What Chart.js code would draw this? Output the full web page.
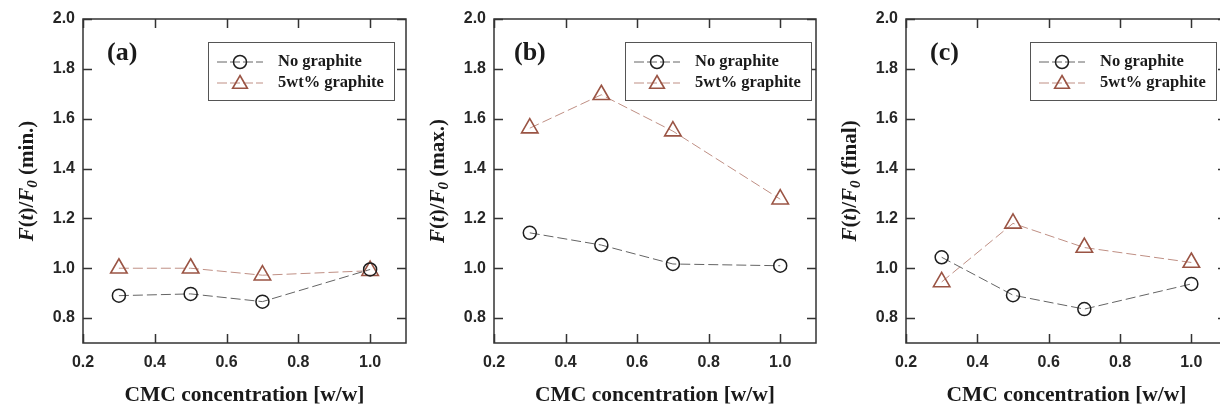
<!DOCTYPE html>
<html>
<head>
<meta charset="utf-8">
<script src="https://cdn.jsdelivr.net/npm/chart.js@4.4.0/dist/chart.umd.min.js"></script>
<style>
html, body { margin: 0; padding: 0; background: #fff; overflow: hidden; width: 1220px; height: 407px; }
canvas { position: absolute; top: 0; }
</style>
</head>
<body>
<canvas id="chartA" width="410" height="407" style="left:0px"></canvas>
<canvas id="chartB" width="410" height="407" style="left:410px"></canvas>
<canvas id="chartC" width="410" height="407" style="left:820px"></canvas>
<script>
// data
const cmc = [0.3, 0.5, 0.7, 1.0];
const minNoGraphite = [0.890, 0.897, 0.866, 0.995];
const minGraphite = [1.000, 1.000, 0.972, 0.990];
const maxNoGraphite = [1.142, 1.093, 1.017, 1.010];
const maxGraphite = [1.562, 1.696, 1.550, 1.277];
const finalNoGraphite = [1.044, 0.892, 0.836, 0.937];
const finalGraphite = [0.945, 1.180, 1.083, 1.023];
const seriesNames = ['No graphite', '5wt% graphite'];
const xTicks = [0.2, 0.4, 0.6, 0.8, 1.0];
const yTicks = [0.8, 1.0, 1.2, 1.4, 1.6, 1.8, 2.0];

const SERIF = '"Liberation Serif", "Times New Roman", serif';
const SANS = '"Liberation Sans", Arial, sans-serif';

// frame, inward ticks, titles, panel letter and boxed legend
const decorPlugin = {
    id: 'decor',
    afterDraw(chart, args, opts) {
        const ctx = chart.ctx;
        const a = chart.chartArea;
        const xs = chart.scales.x, ys = chart.scales.y;
        ctx.save();
        ctx.strokeStyle = '#333';
        ctx.lineWidth = 1.5;
        ctx.strokeRect(a.left, a.top, a.right - a.left, a.bottom - a.top);
        const tl = 9;
        ctx.beginPath();
        xTicks.forEach(v => {
            const px = Math.round(xs.getPixelForValue(v)) + 0.5;
            ctx.moveTo(px, a.bottom); ctx.lineTo(px, a.bottom - tl);
            ctx.moveTo(px, a.top); ctx.lineTo(px, a.top + tl);
        });
        yTicks.forEach(v => {
            const py = Math.round(ys.getPixelForValue(v)) + 0.5;
            ctx.moveTo(a.left, py); ctx.lineTo(a.left + tl, py);
            ctx.moveTo(a.right, py); ctx.lineTo(a.right - tl, py);
        });
        ctx.stroke();

        // x title
        ctx.fillStyle = '#1a1a1a';
        ctx.font = 'bold 21.5px ' + SERIF;
        ctx.textAlign = 'center';
        ctx.textBaseline = 'middle';
        ctx.fillText('CMC concentration [w/w]', (a.left + a.right) / 2, 395);

        // panel letter
        ctx.textAlign = 'left';
        ctx.font = 'bold 26px ' + SERIF;
        ctx.fillText(opts.letter, a.left + opts.letterX, 53);

        // y title with italic parts
        const parts = [
            { t: 'F', it: true }, { t: '(', it: false }, { t: 't', it: true },
            { t: ')/', it: false }, { t: 'F', it: true }, { t: '0', it: true, sub: true },
            { t: ' ' + opts.yTail, it: false }
        ];
        const fontOf = p => 'bold ' + (p.it ? 'italic ' : '') + (p.sub ? 15 : 21) + 'px ' + SERIF;
        let total = 0;
        parts.forEach(p => { ctx.font = fontOf(p); p.w = ctx.measureText(p.t).width; total += p.w; });
        ctx.translate(a.left - 57, (a.top + a.bottom) / 2);
        ctx.rotate(-Math.PI / 2);
        ctx.textBaseline = 'alphabetic';
        let x = -total / 2;
        parts.forEach(p => {
            ctx.font = fontOf(p);
            ctx.fillText(p.t, x, p.sub ? 11 : 7);
            x += p.w;
        });
        ctx.restore();

        // legend
        ctx.save();
        const lx = a.left + opts.legendX, ly = a.top + 23;
        ctx.fillStyle = '#fff';
        ctx.fillRect(lx, ly, 186, 58);
        ctx.strokeStyle = '#555';
        ctx.lineWidth = 1;
        ctx.strokeRect(lx + 0.5, ly + 0.5, 186, 58);
        chart.data.datasets.forEach((ds, i) => {
            const ry = ly + 20 + i * 21;
            ctx.strokeStyle = ds.borderColor;
            ctx.lineWidth = 1;
            ctx.setLineDash([10, 3]);
            ctx.beginPath();
            ctx.moveTo(lx + 9, ry); ctx.lineTo(lx + 55, ry);
            ctx.stroke();
            ctx.setLineDash([]);
            ctx.strokeStyle = ds.pointBorderColor;
            ctx.fillStyle = 'rgba(0,0,0,0)';
            ctx.lineWidth = ds.pointBorderWidth;
            Chart.helpers.drawPoint(ctx, {
                pointStyle: ds.pointStyle, radius: ds.pointStyle === 'triangle' ? 8.5 : 6.5,
                borderWidth: ds.pointBorderWidth, rotation: 0
            }, lx + 32, ry + (ds.pointStyle === 'triangle' ? 1 : 0));
            ctx.fillStyle = '#1a1a1a';
            ctx.font = 'bold 16.5px ' + SERIF;
            ctx.textAlign = 'left';
            ctx.textBaseline = 'middle';
            ctx.fillText(ds.label, lx + 70, ry);
        });
        ctx.restore();
    }
};

function makeChart(id, noGraphite, graphite, opts) {
    new Chart(document.getElementById(id), {
        type: 'line',
        data: {
            datasets: [{
                label: seriesNames[0],
                data: cmc.map((x, i) => ({ x: x, y: noGraphite[i] })),
                borderColor: '#646464',
                borderWidth: 1,
                borderDash: [10, 4],
                pointStyle: 'circle',
                pointRadius: 6.5,
                pointBorderColor: '#1e1e1e',
                pointBorderWidth: 1.5,
                pointBackgroundColor: 'rgba(0,0,0,0)',
                fill: false
            }, {
                label: seriesNames[1],
                data: cmc.map((x, i) => ({ x: x, y: graphite[i] })),
                borderColor: '#bf8f84',
                borderWidth: 1,
                borderDash: [10, 4],
                pointStyle: 'triangle',
                pointRadius: 9.5,
                pointBorderColor: '#9a5444',
                pointBorderWidth: 1.6,
                pointBackgroundColor: 'rgba(0,0,0,0)',
                fill: false
            }]
        },
        options: {
            responsive: false,
            animation: false,
            layout: { autoPadding: false, padding: { top: 19, right: opts.padRight, left: 0, bottom: 0 } },
            plugins: {
                legend: { display: false },
                tooltip: { enabled: false },
                decor: opts
            },
            scales: {
                x: {
                    type: 'linear', min: 0.2, max: 1.1,
                    afterBuildTicks: s => { s.ticks = xTicks.map(v => ({ value: v })); },
                    afterFit: s => { s.height = 64; s.paddingLeft = 0; s.paddingRight = 0; },
                    grid: { display: false, drawTicks: false },
                    border: { display: false },
                    ticks: {
                        padding: 10, color: '#262626', maxRotation: 0, autoSkip: false,
                        font: { family: SANS, weight: 'bold', size: 16 },
                        callback: v => v.toFixed(1)
                    }
                },
                y: {
                    type: 'linear', min: 0.7, max: 2.0,
                    afterBuildTicks: s => { s.ticks = yTicks.map(v => ({ value: v })); },
                    afterFit: s => { s.width = opts.left; s.paddingTop = 0; s.paddingBottom = 0; },
                    grid: { display: false, drawTicks: false },
                    border: { display: false },
                    ticks: {
                        padding: 8, color: '#262626', autoSkip: false,
                        font: { family: SANS, weight: 'bold', size: 16 },
                        callback: v => v.toFixed(1)
                    }
                }
            }
        },
        plugins: [decorPlugin]
    });
}

makeChart('chartA', minNoGraphite, minGraphite, { left: 83, padRight: 4, letter: '(a)', letterX: 24, legendX: 125, yTail: '(min.)' });
makeChart('chartB', maxNoGraphite, maxGraphite, { left: 84, padRight: 4, letter: '(b)', letterX: 20, legendX: 131, yTail: '(max.)' });
makeChart('chartC', finalNoGraphite, finalGraphite, { left: 86, padRight: 3, letter: '(c)', letterX: 24, legendX: 124, yTail: '(final)' });
</script>
</body>
</html>
